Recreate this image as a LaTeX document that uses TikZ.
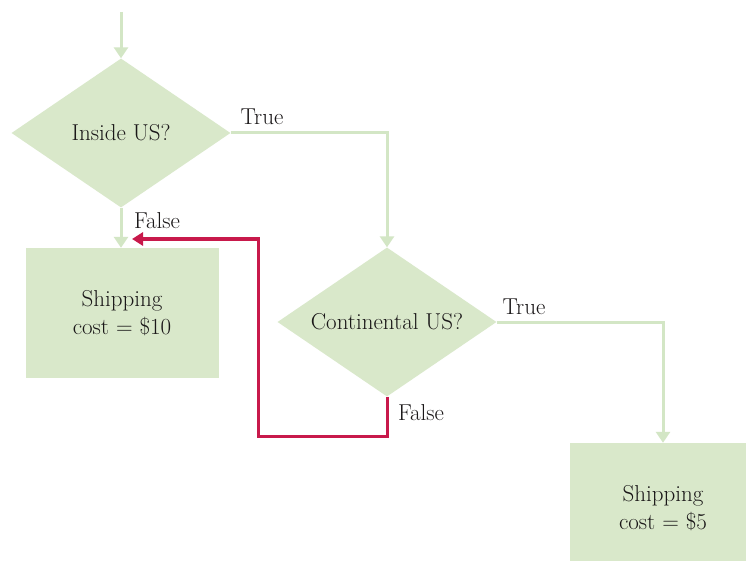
\documentclass[tikz,border=0pt]{standalone}
\usetikzlibrary{shapes.geometric,arrows.meta}
\definecolor{boxgreen}{HTML}{D9E8CA}
\definecolor{linegreen}{HTML}{D3E6C5}
\definecolor{loopred}{HTML}{C8194B}
\definecolor{txt}{HTML}{1A1718}
\tikzset{
  decision/.style={shape=diamond, fill=boxgreen, inner sep=0pt, aspect=1.47,
    minimum width=219pt, minimum height=149pt, text=txt, font=\fontsize{23}{28}\selectfont},
  action/.style={shape=rectangle, fill=boxgreen, inner sep=0pt,
    minimum width=193pt, minimum height=130pt, text=txt, align=center,
    font=\fontsize{23}{27.5}\selectfont},
  flow/.style={draw=linegreen, line width=3pt, -{Triangle[length=11pt,width=14pt]}},
  back/.style={draw=loopred, line width=3pt, -{Triangle[length=11pt,width=13pt]}},
  lbl/.style={text=txt, font=\fontsize{23}{28}\selectfont, inner sep=0pt}
}
\begin{document}
\begin{tikzpicture}[x=1pt,y=-1pt]
\clip (0,0) rectangle (746,561);
\useasboundingbox (0,0) rectangle (746,561);
\fill[white] (0,0) rectangle (746,561);

\node[decision] (d1) at (121,133) {Inside US?};
\node[decision] (d2) at (387,322) {Continental US?};
\node[action] (b1) at (122,313) {Shipping\\cost = \$10};
\node[action, minimum width=186pt] (b2) at (663,508) {Shipping\\cost = \$5};

\coordinate (start) at (121,12);
\coordinate (rt) at (132,239);

\node[lbl] (t1) at (262,117) {True};
\node[lbl] (f1) at (157,221) {False};
\node[lbl] (t2) at (524,307) {True};
\node[lbl] (f2) at (421,413) {False};

\draw[flow] (start) -- (d1.north);
\draw[flow] (d1.south) -- (d1.south |- b1.north);
\draw[flow] (d1.east) -| (d2.north);
\draw[flow] (d2.east) -| (b2.north);
\draw[back] (d2.south) -- ++(0,40) -| (258,239) -- (rt);
\end{tikzpicture}
\end{document}
